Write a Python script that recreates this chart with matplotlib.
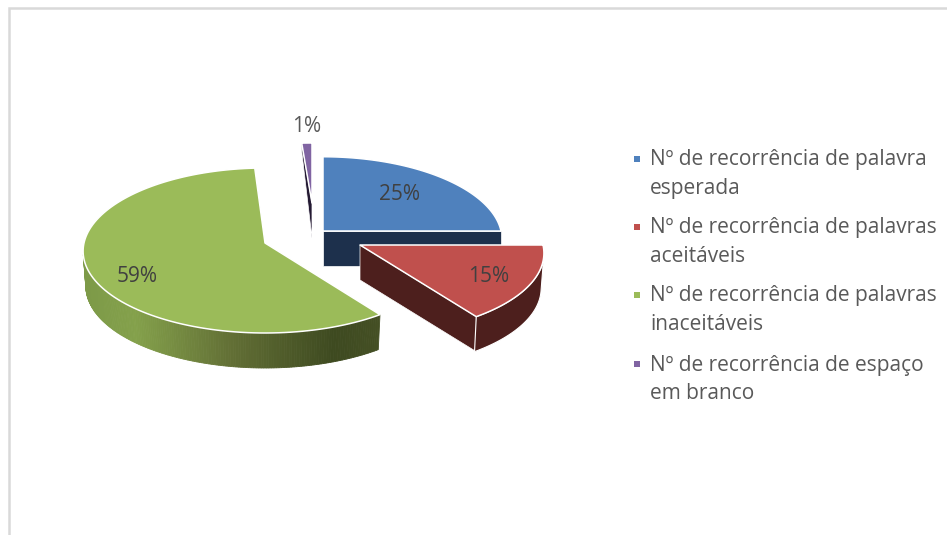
import numpy as np
import matplotlib
matplotlib.use("Agg")
import matplotlib.pyplot as plt
from matplotlib.colors import LinearSegmentedColormap

plt.rcParams['font.family'] = ['Open Sans', 'DejaVu Sans']

categories = ["Nº de recorrência de palavra\nesperada",
              "Nº de recorrência de palavras\naceitáveis",
              "Nº de recorrência de palavras\ninaceitáveis",
              "Nº de recorrência de espaço\nem branco"]
values = [25, 15, 59, 1]

top_colors = ["#4f81bd", "#c0504d", "#9bbb59", "#8064a2"]
wall_colors = ["#1d304c", "#4d1f1d", "#3f4a20", "#241a33"]

# layout in image pixels
apex = [(323, 231), (360, 245), (265, 243), (312, 203)]
rx = [178, 183, 181, 182]
ry_scale = [0.99, 1.0, 1.0, 0.8]
label_pos = [(400, 195), (489, 277), (137, 277), (307, 126)]
legend_y = [159, 227, 295, 364]

DEPTH = 35
RY_MID = 82.5
RY_SLOPE = 7.5
PERSP = 0.1
TEXT = "#595959"


def rim(i, t, bottom=False):
    # point on the outer edge of slice i at angle t (degrees), with some perspective
    t = np.radians(t)
    s = -np.sin(t)
    x = rx[i] * np.cos(t) * (1 + PERSP * s)
    y = ry_scale[i] * s * (RY_MID + RY_SLOPE * s)
    if bottom:
        return apex[i][0] + 0.985 * x, apex[i][1] + y + DEPTH
    return apex[i][0] + x, apex[i][1] + y


def arc_top(i, t0, t1):
    t = np.linspace(t0, t1, 120)
    x, y = rim(i, t)
    ax.fill(np.r_[apex[i][0], x], np.r_[apex[i][1], y], color=top_colors[i],
            ec="white", lw=1.1, joinstyle="round")


def arc_wall(i, t0, t1, color):
    t = np.linspace(t0, t1, 80)
    x, y = rim(i, t)
    xb, yb = rim(i, t, bottom=True)
    ax.fill(np.r_[x, xb[::-1]], np.r_[y, yb[::-1]], color=color, ec="white", lw=0.8)


def radial_wall(i, t, color, end_depth=DEPTH):
    x, y = rim(i, t)
    ax.fill([apex[i][0], x, x, apex[i][0]],
            [apex[i][1], y, y + end_depth, apex[i][1] + DEPTH],
            color=color, ec="white", lw=0.5)


fig = plt.figure(figsize=(9.47, 5.35), dpi=100)
ax = fig.add_axes([0, 0, 1, 1])
ax.set_xlim(0, 947)
ax.set_ylim(535, 0)
ax.axis("off")

# chart frame
ax.plot([9, 9, 947], [535, 8, 8], color="#d9d9d9", lw=1.8, solid_joinstyle="miter")

edges = 90 - 3.6 * np.r_[0, np.cumsum(values)]

# 1% slice
radial_wall(3, edges[3], wall_colors[3], end_depth=8)
arc_top(3, edges[3], edges[4])

# 25% slice
radial_wall(0, edges[1], wall_colors[0])
arc_top(0, edges[0], edges[1])

# 59% slice, outer wall gets lighter to the left
green_map = LinearSegmentedColormap.from_list(
    "green_wall", [(0, "#7d9a48"), (0.17, "#84a14b"), (0.5, "#626f35"),
                   (0.85, "#3e4a20"), (1, "#444f24")])
t_all = np.linspace(edges[2], -172, 160)
for a, b in zip(t_all[:-1], t_all[1:]):
    xa, ya = rim(2, a)
    xb, yb = rim(2, a, bottom=True)
    xc, yc = rim(2, b)
    xd, yd = rim(2, b, bottom=True)
    col = green_map(((xa + xc) / 2 - 84) / (378 - 84))
    ax.fill([xa, xb, xd, xc], [ya, yb, yd, yc], color=col, ec=col, lw=0.6)
arc_top(2, edges[2], edges[3])

# 15% slice
radial_wall(1, edges[2], wall_colors[1])
arc_wall(1, edges[1] - 8, edges[2], wall_colors[1])
arc_top(1, edges[1], edges[2])

for i, v in enumerate(values):
    ax.text(label_pos[i][0], label_pos[i][1], f"{v}%", color="#404040" if i < 3 else TEXT,
            fontsize=15, ha="center", va="center")

for i, lab in enumerate(categories):
    ax.plot(637, legend_y[i], "s", color=top_colors[i], ms=5, mew=0)
    ax.text(650, legend_y[i] - 9.5, lab, color=TEXT, fontsize=15, ha="left", va="top",
            linespacing=1.45)

fig.savefig("out.png", dpi=100)
